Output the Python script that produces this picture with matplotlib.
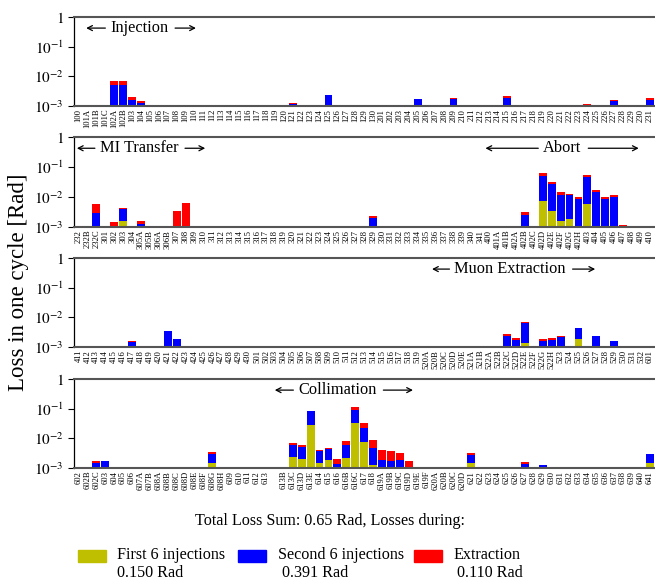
import numpy as np
import matplotlib
matplotlib.use("Agg")
import matplotlib.pyplot as plt
from matplotlib.patches import Rectangle
from matplotlib.ticker import FixedLocator, FixedFormatter, NullLocator

plt.rcParams["font.family"] = ["Liberation Serif", "DejaVu Serif"]
plt.rcParams["mathtext.fontset"] = "stix"

# Loss monitor labels, one row of bars per panel
labels_1 = (["100", "101A", "101B", "101C", "102A", "102B"]
            + [str(n) for n in range(103, 131)]
            + [str(n) for n in range(201, 232)])
labels_2 = (["232", "232B", "232C", "301", "302", "303", "304", "305A", "305B",
             "306A", "306B", "307", "308", "309"]
            + [str(n) for n in range(310, 342)]
            + ["400", "401A", "401B", "402A", "402B", "402C", "402D", "402E", "402F",
               "402G", "402H", "403", "404", "405", "406", "407", "408", "409", "410"])
labels_3 = ([str(n) for n in range(411, 431)]
            + [str(n) for n in range(501, 520)]
            + ["520A", "520B", "520C", "520D", "520E", "521A", "521B", "522A", "522B",
               "522C", "522D", "522E", "522F", "522G", "522H"]
            + [str(n) for n in range(523, 533)] + ["601"])
labels_4 = (["602", "602B", "602C", "603", "604", "605", "606", "607A", "607B",
             "608A", "608B", "608C", "608D", "608E", "608F", "608G", "608H",
             "609", "610", "611", "612", "613", "", "613B", "613C", "613D", "613E",
             "614", "615", "616", "616B", "616C", "617", "618",
             "619A", "619B", "619C", "619D", "619E", "619F",
             "620A", "620B", "620C", "620D"]
            + [str(n) for n in range(621, 642)])

# Losses per monitor [Rad]: first 6 injections, second 6 injections, extraction
first6 = {
    "125": 1.02e-3,
    "303": 1.55e-3, "329": 1.05e-3, "402D": 7.5e-3, "402E": 3.45e-3, "402F": 1.59e-3,
    "402G": 1.81e-3, "403": 5.9e-3,
    "522E": 1.4e-3, "525": 1.9e-3,
    "608G": 1.51e-3, "613C": 2.4e-3, "613D": 2.06e-3, "613E": 28.6e-3, "614": 1.51e-3,
    "615": 1.9e-3, "616B": 2.22e-3, "616C": 33e-3, "617": 7.7e-3, "618": 1.23e-3,
    "621": 1.51e-3, "641": 1.51e-3,
}
second6 = {
    "102A": 5.0e-3, "102B": 5.0e-3, "103": 1.6e-3, "104": 1.23e-3, "121": 1.14e-3,
    "125": 1.32e-3, "205": 1.72e-3, "209": 1.72e-3, "215": 1.9e-3, "224": 1.03e-3,
    "227": 1.47e-3, "231": 1.63e-3,
    "232C": 2.88e-3, "303": 2.38e-3, "305A": 1.29e-3, "329": 0.95e-3, "402B": 2.46e-3,
    "402D": 44.5e-3, "402E": 24.5e-3, "402F": 10.0e-3, "402G": 9.8e-3, "402H": 8.5e-3,
    "403": 40.8e-3, "404": 15e-3, "405": 8.5e-3, "406": 9.9e-3, "407": 1.0e-3,
    "417": 1.47e-3, "421": 3.46e-3, "422": 1.81e-3, "522C": 2.41e-3, "522D": 1.77e-3,
    "522E": 5.2e-3, "522G": 1.63e-3, "522H": 1.77e-3, "523": 2.23e-3, "525": 2.6e-3,
    "527": 2.41e-3, "529": 1.63e-3,
    "602": 1.1e-3, "602C": 1.51e-3, "603": 1.76e-3, "608G": 1.52e-3, "613C": 3.7e-3,
    "613D": 3.14e-3, "613E": 55.4e-3, "614": 2.29e-3, "615": 2.6e-3, "616": 1.33e-3,
    "616B": 3.9e-3, "616C": 58e-3, "617": 14.9e-3, "618": 3.57e-3, "619A": 1.9e-3,
    "619B": 1.76e-3, "619C": 1.9e-3, "621": 1.29e-3, "627": 1.4e-3, "629": 1.29e-3,
    "641": 1.52e-3,
}
extraction = {
    "102A": 1.9e-3, "102B": 1.9e-3, "103": 0.4e-3, "104": 0.25e-3, "119": 1.08e-3,
    "121": 0.12e-3, "209": 0.14e-3, "215": 0.27e-3, "224": 0.14e-3, "227": 0.1e-3,
    "231": 0.23e-3,
    "232C": 3.0e-3, "302": 1.44e-3, "303": 0.43e-3, "305A": 0.26e-3, "307": 3.45e-3,
    "308": 6.4e-3, "329": 0.34e-3, "402B": 0.74e-3, "402D": 13e-3, "402E": 4e-3,
    "402F": 3.4e-3, "402G": 1.3e-3, "402H": 1.7e-3, "403": 9.3e-3, "404": 2.5e-3,
    "405": 1.7e-3, "406": 1.7e-3, "407": 0.14e-3,
    "417": 0.16e-3, "421": 0.09e-3, "422": 0.09e-3, "522C": 0.4e-3, "522D": 0.3e-3,
    "522E": 0.5e-3, "522G": 0.27e-3, "522H": 0.3e-3, "523": 0.18e-3,
    "602C": 0.25e-3, "608G": 0.51e-3, "613C": 1.0e-3, "613D": 0.9e-3, "614": 0.3e-3,
    "615": 0.3e-3, "616": 0.73e-3, "616B": 2.2e-3, "616C": 24e-3, "617": 10.4e-3,
    "618": 4.1e-3, "619A": 2.2e-3, "619B": 2.04e-3, "619C": 1.37e-3, "619D": 1.76e-3,
    "621": 0.47e-3, "627": 0.23e-3,
}

total_sum = 0.65
phase_names = ["First 6 injections", "Second 6 injections", "Extraction"]
phase_totals = ["0.150", "0.391", "0.110"]
phase_colors = ["y", "b", "r"]

# Region annotations per panel: (text, left arrow tip, text left edge, right arrow tip)
regions = [
    [("Injection", 0.021, 0.062, 0.210)],
    [("MI Transfer", 0.005, 0.044, 0.226),
     ("Abort", 0.709, 0.808, 0.973)],
    [("Muon Extraction", 0.617, 0.655, 0.898)],
    [("Collimation", 0.346, 0.386, 0.584)],
]

fig = plt.figure(figsize=(6.55, 5.81), dpi=100)
panel_labels = [labels_1, labels_2, labels_3, labels_4]
bottoms = [0.8176, 0.6093, 0.4028, 0.1945]
heights = [0.1532, 0.1549, 0.1532, 0.1532]

texts = []
for labels, b, h, notes in zip(panel_labels, bottoms, heights, regions):
    ax = fig.add_axes([0.113, b, 0.886, h])
    x = np.arange(len(labels))
    v1 = np.array([first6.get(l, 0.0) for l in labels])
    v2 = np.array([second6.get(l, 0.0) for l in labels])
    v3 = np.array([extraction.get(l, 0.0) for l in labels])
    ax.set_yscale("log")
    w = 0.88
    ax.bar(x, v1, width=w, color=phase_colors[0], linewidth=0)
    ax.bar(x, v2, bottom=v1, width=w, color=phase_colors[1], linewidth=0)
    ax.bar(x, v3, bottom=v1 + v2, width=w, color=phase_colors[2], linewidth=0)
    ax.set_ylim(1e-3, 1)
    ax.set_xlim(-0.5, len(labels) - 0.5)
    ax.yaxis.set_major_locator(FixedLocator([1e-3, 1e-2, 1e-1, 1]))
    ax.yaxis.set_major_formatter(FixedFormatter(
        [r"$10^{-3}$", r"$10^{-2}$", r"$10^{-1}$", r"$1$"]))
    ax.yaxis.set_minor_locator(NullLocator())
    ax.tick_params(axis="y", labelsize=11, length=4, width=0.8, direction="out")
    ax.set_xticks(x)
    ax.set_xticklabels(labels, rotation=90, fontsize=6.2)
    ax.tick_params(axis="x", length=0, pad=2)
    ax.spines["right"].set_visible(False)
    ax.spines["left"].set_linewidth(0.9)
    for s in ("top", "bottom"):
        ax.spines[s].set_color("#555555")
        ax.spines[s].set_linewidth(1.5)
    for text, x0, xl, x1 in notes:
        t = ax.text(xl, 0.875, text, transform=ax.transAxes, ha="left",
                    va="center", fontsize=11.8)
        texts.append((ax, t, x0, x1))

# Arrows on both sides of each region name, clear of the text
fig.canvas.draw()
renderer = fig.canvas.get_renderer()
arrow_kw = dict(arrowstyle="->,head_length=0.35,head_width=0.18", lw=0.9,
                color="black", shrinkA=0, shrinkB=0)
for ax, t, x0, x1 in texts:
    bb = t.get_window_extent(renderer).transformed(ax.transAxes.inverted())
    gap = 0.008
    yy = 0.875
    ax.annotate("", xy=(x0, yy), xytext=(bb.x0 - gap, yy),
                xycoords="axes fraction", textcoords="axes fraction",
                arrowprops=arrow_kw)
    ax.annotate("", xy=(x1, yy), xytext=(bb.x1 + gap * 1.5, yy),
                xycoords="axes fraction", textcoords="axes fraction",
                arrowprops=arrow_kw)

fig.text(0.028, 0.515, "Loss in one cycle [Rad]", rotation=90, ha="center",
         va="center", fontsize=16.5)

fig.text(0.504, 0.1033, f"Total Loss Sum: {total_sum:.2f} Rad, Losses during:",
         ha="center", va="center", fontsize=11.6)

rect_x = [0.119, 0.3634, 0.632]
text_x = [0.1786, 0.4244, 0.6916]
for name, tot, col, rx, tx in zip(phase_names, phase_totals, phase_colors, rect_x, text_x):
    fig.patches.append(Rectangle((rx, 0.0327), 0.0427, 0.0207, color=col,
                                 transform=fig.transFigure, figure=fig))
    fig.text(tx, 0.0447, name, ha="left", va="center", fontsize=11.6)
    lead = "" if col == "y" else " "
    fig.text(tx, 0.0138, f"{lead}{tot} Rad", ha="left", va="center", fontsize=11.6)

fig.savefig("out.png", dpi=100)
